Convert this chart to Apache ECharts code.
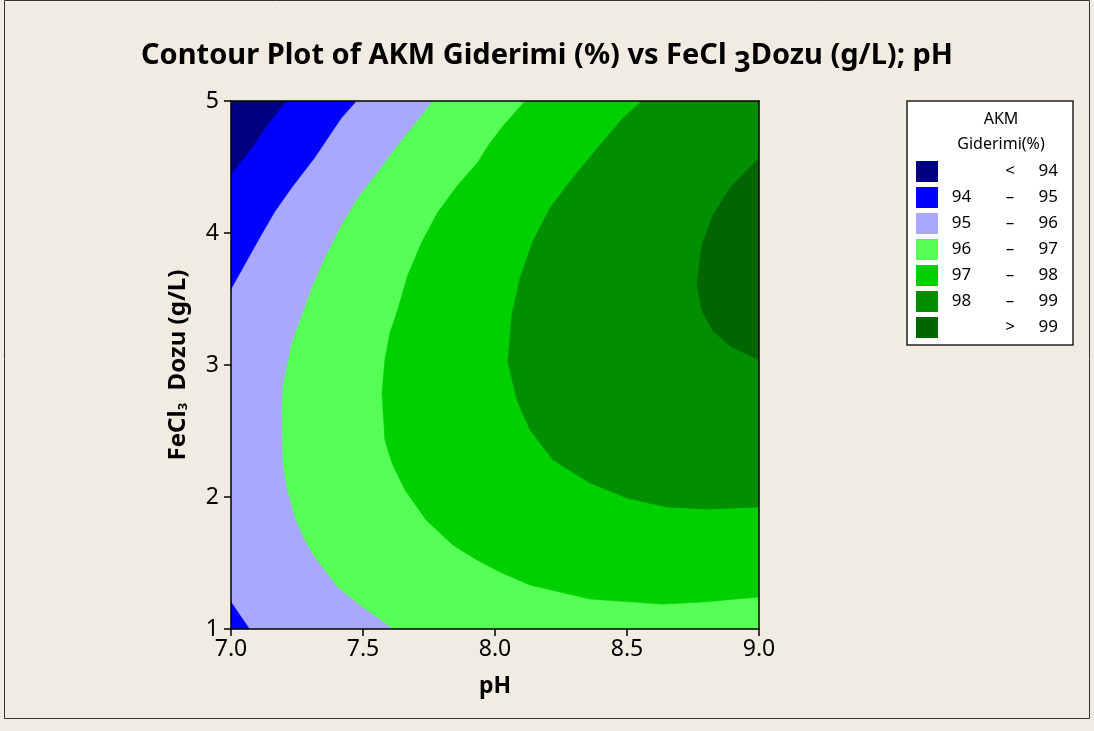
<!DOCTYPE html>
<html><head><meta charset="utf-8">
<script src="https://cdn.jsdelivr.net/npm/echarts@6/dist/echarts.min.js"></script>
<style>html,body{margin:0;padding:0;background:#F0ECE1}#c{width:1094px;height:731px}</style>
</head><body><div id="c"></div><script>
// ---- data (pH, FeCl3 dose) ----
const phRange = [7.0, 9.0];
const doseRange = [1, 5];
const phInterval = 0.5;
const doseInterval = 1;
const levelNames = ['< 94', '94 – 95', '95 – 96', '96 – 97', '97 – 98', '98 – 99', '> 99'];
const legendLow  = ['\u00a0', '94', '95', '96', '97', '98', '\u00a0'];
const legendSep  = ['<', '–', '–', '–', '–', '–', '>'];
const legendHigh = ['94', '95', '96', '97', '98', '99', '99'];
// contour lines (each [pH, dose])
const contour94 = [[7.000,4.44],[7.076,4.63],[7.140,4.82],[7.212,5.00]];
const contour95Upper = [[7.477,5.0],[7.420,4.871],[7.318,4.568],[7.231,4.341],[7.167,4.159],[7.110,3.962],[7.053,3.758],[7.0,3.568]];
const contour95Lower = [[7.0,1.21],[7.072,1.0]];
const contour96 = [[7.765,5.0],[7.716,4.871],[7.633,4.667],[7.557,4.462],[7.481,4.265],[7.420,4.061],[7.356,3.811],[7.307,3.583],[7.273,3.394],[7.231,3.167],[7.197,2.833],[7.193,2.659],[7.197,2.258],[7.212,2.076],[7.242,1.848],[7.280,1.674],[7.318,1.545],[7.405,1.318],[7.489,1.182],[7.553,1.091],[7.610,1.008],[7.614,1.0]];
const contour97 = [[8.114,5.0],[8.034,4.818],[7.981,4.682],[7.936,4.538],[7.860,4.364],[7.784,4.159],[7.723,3.932],[7.670,3.682],[7.629,3.402],[7.602,3.242],[7.583,3.038],[7.572,2.788],[7.583,2.432],[7.610,2.258],[7.659,2.053],[7.739,1.826],[7.841,1.636],[7.932,1.523],[8.019,1.432],[8.133,1.333],[8.360,1.227],[8.636,1.189],[8.788,1.205],[9.0,1.242]];
const contour98 = [[8.557,5.0],[8.485,4.871],[8.398,4.667],[8.295,4.417],[8.208,4.189],[8.144,3.939],[8.095,3.659],[8.064,3.379],[8.049,3.023],[8.083,2.735],[8.133,2.508],[8.220,2.280],[8.360,2.106],[8.500,1.992],[8.652,1.924],[8.803,1.909],[9.0,1.924]];
const contour99 = [[9.0,4.568],[8.890,4.341],[8.826,4.136],[8.784,3.909],[8.765,3.606],[8.784,3.409],[8.826,3.258],[8.890,3.144],[9.0,3.038]];

const colors = ['#000080', '#0000FF', '#A8A8FF', '#55FF55', '#00D000', '#008F00', '#006600'];
const FONT = 'Noto Sans';

// regions (superlevel sets) built from contours and the plot corners
const x0 = phRange[0], x1 = phRange[1], y0 = doseRange[0], y1 = doseRange[1];
const regions = [
  [[x0,y0],[x1,y0],[x1,y1],[x0,y1]],
  contour94.concat([[x1,y1],[x1,y0],[x0,y0]]),
  contour95Upper.concat(contour95Lower, [[x1,y0],[x1,y1]]),
  contour96.concat([[x1,y0],[x1,y1]]),
  contour97.concat([[x1,y1]]),
  contour98.concat([[x1,y1]]),
  contour99.slice()
];

function polySeries(i) {
  const pts = regions[i];
  return {
    type: 'custom', name: levelNames[i], coordinateSystem: 'cartesian2d',
    xAxisIndex: 0, yAxisIndex: 0, z: 2 + i,
    itemStyle: { color: colors[i] },
    data: pts, encode: { x: 0, y: 1 }, silent: true, clip: true,
    renderItem: function (params, api) {
      if (params.dataIndex !== 0) return null;
      return { type: 'polygon', shape: { points: pts.map(p => api.coord(p)) },
               style: { fill: colors[i], stroke: colors[i], lineWidth: 0.6 } };
    }
  };
}

const chart = echarts.init(document.getElementById('c'), null, { renderer: 'canvas' });
const axisLineStyle = { color: '#000', width: 1.5 };
chart.setOption({
  animation: false,
  backgroundColor: '#F0ECE1',
  title: {
    text: 'Contour Plot of AKM Giderimi (%) vs FeCl {sub|3}Dozu (g/L); pH',
    left: 'center', top: 29,
    textStyle: { fontFamily: FONT, fontWeight: 'bold', fontSize: 29, color: '#000',
      rich: { sub: { fontFamily: FONT, fontWeight: 'bold', fontSize: 29, color: '#000', padding: [15, 0, 0, 0] } } }
  },
  grid: { left: 231, top: 101, width: 528, height: 528, containLabel: false },
  xAxis: [{
    type: 'value', min: phRange[0], max: phRange[1], interval: phInterval, z: 10,
    name: 'pH', nameLocation: 'middle', nameGap: 46,
    nameTextStyle: { fontFamily: FONT, fontWeight: 'bold', fontSize: 23, color: '#000' },
    axisLine: { show: true, onZero: false, lineStyle: axisLineStyle },
    axisTick: { show: true, length: 7, lineStyle: axisLineStyle },
    axisLabel: { margin: 9, fontFamily: FONT, fontSize: 23, color: '#000', formatter: v => v.toFixed(1) },
    splitLine: { show: false }
  }, {
    type: 'value', min: phRange[0], max: phRange[1], position: 'top', z: 10,
    axisLine: { show: true, onZero: false, lineStyle: axisLineStyle },
    axisTick: { show: false }, axisLabel: { show: false }, splitLine: { show: false }
  }],
  yAxis: [{
    type: 'value', min: doseRange[0], max: doseRange[1], interval: doseInterval, z: 10,
    name: 'FeCl{s|3}  Dozu (g/L)', nameLocation: 'middle', nameGap: 41,
    nameTextStyle: { fontFamily: FONT, fontWeight: 'bold', fontSize: 24, color: '#000',
      rich: { s: { fontFamily: FONT, fontWeight: 'bold', fontSize: 13, color: '#000', padding: [10, 0, 0, 0] } } },
    axisLine: { show: true, onZero: false, lineStyle: axisLineStyle },
    axisTick: { show: true, length: 7, lineStyle: axisLineStyle },
    axisLabel: { margin: 12, fontFamily: FONT, fontSize: 23, color: '#000' },
    splitLine: { show: false }
  }, {
    type: 'value', min: doseRange[0], max: doseRange[1], position: 'right', z: 10,
    axisLine: { show: true, onZero: false, lineStyle: axisLineStyle },
    axisTick: { show: false }, axisLabel: { show: false }, splitLine: { show: false }
  }],
  legend: {
    data: levelNames, orient: 'vertical', left: 911, top: 156,
    itemWidth: 22, itemHeight: 21, itemGap: 5, icon: 'rect', selectedMode: false,
    formatter: name => { const i = levelNames.indexOf(name); return '{l|' + legendLow[i] + '}{m|' + legendSep[i] + '}{r|' + legendHigh[i] + '}'; },
    textStyle: { fontFamily: FONT, fontSize: 17, color: '#000', lineHeight: 21,
      rich: {
        l: { width: 37, align: 'center', fontFamily: FONT, fontSize: 17, color: '#000' },
        m: { width: 60, align: 'center', fontFamily: FONT, fontSize: 17, color: '#000' },
        r: { width: 18, align: 'right', fontFamily: FONT, fontSize: 17, color: '#000' }
      } }
  },
  graphic: [
    { type: 'rect', z: 0, shape: { x: 4.5, y: 0.5, width: 1085, height: 718 }, style: { fill: 'none', stroke: '#333', lineWidth: 1 } },
    { type: 'rect', z: 0, shape: { x: 907, y: 101, width: 166, height: 244 }, style: { fill: '#fff', stroke: '#222', lineWidth: 1.5 } },
    { type: 'text', z: 1, x: 1001, y: 119, style: { text: 'AKM', fontFamily: FONT, fontSize: 16, fill: '#000', align: 'center', verticalAlign: 'middle' } },
    { type: 'text', z: 1, x: 1001, y: 144, style: { text: 'Giderimi(%)', fontFamily: FONT, fontSize: 16, fill: '#000', align: 'center', verticalAlign: 'middle' } }
  ],
  series: regions.map((r, i) => polySeries(i))
});
</script></body></html>
